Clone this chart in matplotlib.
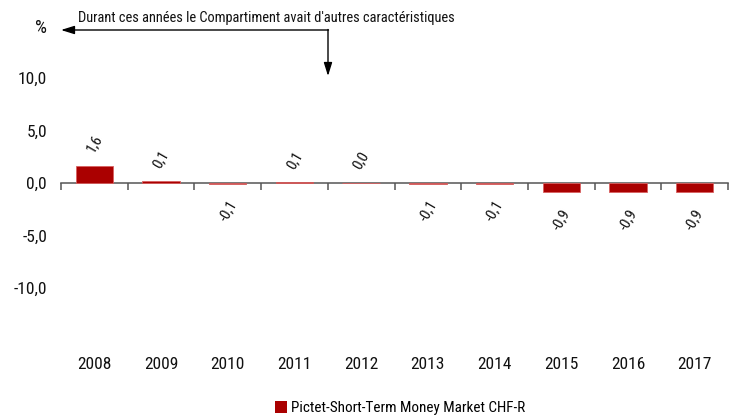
import matplotlib
matplotlib.use("Agg")
import matplotlib.pyplot as plt
from matplotlib.patches import Patch
import numpy as np

years = ["2008", "2009", "2010", "2011", "2012", "2013", "2014", "2015", "2016", "2017"]
values = [1.6, 0.15, -0.05, 0.06, 0.0, -0.05, -0.05, -0.9, -0.9, -0.9]
value_labels = ["1,6", "0,1", "-0,1", "0,1", "0,0", "-0,1", "-0,1", "-0,9", "-0,9", "-0,9"]
yticks = [-10, -5, 0, 5, 10]
ytick_labels = ["-10,0", "-5,0", "0,0", "5,0", "10,0"]
series_name = "Pictet-Short-Term Money Market CHF-R"
note = "Durant ces années le Compartiment avait d'autres caractéristiques"

plt.rcParams["font.family"] = ["Roboto Condensed", "DejaVu Sans"]

color = "#AA0000"
W, H = 735, 417
fig = plt.figure(figsize=(7.35, 4.17), dpi=100)
ax = fig.add_axes([61 / W, 76.5 / H, 667 / W, 315 / H])

x = np.arange(len(years))
ax.bar(x, values, width=0.56, color=color, edgecolor="#D86060", linewidth=0.6, zorder=3)
ax.set_xlim(-0.5, len(years) - 0.5)
ax.set_ylim(-15, 15)

for s in ["top", "right", "left"]:
    ax.spines[s].set_visible(False)
ax.spines["bottom"].set_position(("data", 0))
ax.spines["bottom"].set_color("#555555")
ax.spines["bottom"].set_linewidth(1.1)
ax.spines["bottom"].set_zorder(2)
ax.set_xticks(x)
ax.set_xticklabels([])
ax.set_xticks(np.arange(len(years) + 1) - 0.5, minor=True)
ax.tick_params(axis="x", which="major", length=0)
ax.tick_params(axis="x", which="minor", length=5, width=1.1, color="#555555", direction="out")

ax.set_yticks(yticks)
ax.set_yticklabels(ytick_labels)
ax.tick_params(axis="y", length=0, pad=10, labelsize=12.5, labelcolor="#111111")

sec = ax.secondary_xaxis("bottom")
sec.set_xticks(x)
sec.set_xticklabels(years)
sec.tick_params(length=0, pad=12, labelsize=12.5, labelcolor="#111111")
sec.spines["bottom"].set_visible(False)

for xi, v, lab in zip(x, values, value_labels):
    if v >= 0:
        ax.annotate(lab, (xi, v), xytext=(0, 8), textcoords="offset points",
                    ha="center", va="bottom", rotation=60, fontsize=11, color="#111111")
    else:
        ax.annotate(lab, (xi, v), xytext=(0, -10), textcoords="offset points",
                    ha="center", va="top", rotation=60, fontsize=11, color="#111111")

fig.text(41 / W, 1 - 28 / H, "%", fontsize=13.5, ha="center", va="center", color="#111111")
fig.text(78 / W, 1 - 18 / H, note, fontsize=10.4, ha="left", va="center", color="#111111")
ax.annotate("", xy=(61 / W, 1 - 30 / H), xytext=(328.5 / W, 1 - 30 / H),
            xycoords="figure fraction", textcoords="figure fraction",
            arrowprops=dict(arrowstyle="-|>,head_length=0.8,head_width=0.25", color="black", lw=1,
                            shrinkA=0, shrinkB=0))
ax.annotate("", xy=(328 / W, 1 - 76 / H), xytext=(328 / W, 1 - 29.5 / H),
            xycoords="figure fraction", textcoords="figure fraction",
            arrowprops=dict(arrowstyle="-|>,head_length=0.8,head_width=0.25", color="black", lw=1,
                            shrinkA=0, shrinkB=0))

fig.legend(handles=[Patch(facecolor=color, edgecolor="none", label=series_name)],
           loc="center", bbox_to_anchor=(400 / W, 1 - 408 / H), frameon=False,
           fontsize=10.9, handlelength=0.8, handleheight=0.8, handletextpad=0.3)

fig.savefig("out.png", dpi=100, facecolor="white")
